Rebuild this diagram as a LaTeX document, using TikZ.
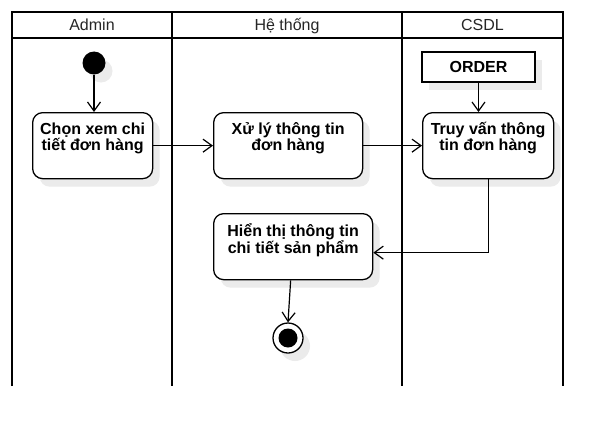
\documentclass[tikz,border=0pt]{standalone}
\usepackage{fontspec}
\setmainfont{Liberation Sans}
\usetikzlibrary{arrows.meta,shadows,calc}
\newcommand{\acttxt}[2]{\parbox[t][46pt][t]{#1}{\centering\fontsize{16}{16}\selectfont\bfseries #2}}
\tikzset{
  lane/.style={line width=2.6pt},
  hdr/.style={line width=1.8pt},
  hdrtext/.style={font=\fontsize{16}{16}\selectfont, text=black!85, inner sep=0pt, anchor=base},
  shadowed/.style={drop shadow={shadow xshift=7pt, shadow yshift=-8pt, fill=black!8, opacity=1}},
  act/.style={draw, line width=1.3pt, rounded corners=10pt, fill=white, shadowed, inner xsep=2pt, inner ysep=10pt, anchor=north west},
  arr/.style={line width=1.2pt, -{Straight Barb[length=9pt,width=13pt,line width=1.2pt]}},
}
\begin{document}
\begin{tikzpicture}[x=1pt,y=-1pt]
\useasboundingbox[fill=white] (0,0) rectangle (612,436);
% swimlanes
\draw[lane] (12,386) -- (12,12) -- (563,12) -- (563,386);
\draw[lane] (172,12) -- (172,386);
\draw[lane] (402,12) -- (402,386);
\draw[hdr] (12,38) -- (563,38);
\node[hdrtext] (hadmin) at (92,30.5) {Admin};
\node[hdrtext] (hsys) at (287,30.5) {Hệ thống};
\node[hdrtext] (hdb) at (482.5,30.5) {CSDL};
% start
\node[circle, fill=black, minimum size=23pt, inner sep=0pt, shadowed] (start) at (94,63) {};
% activities
\node[act] (chon) at (32,112) {\acttxt{116pt}{Chọn xem chi\\tiết đơn hàng}};
\node[act] (xuly) at (213,112) {\acttxt{145pt}{Xử lý thông tin\\đơn hàng}};
\node[act] (truyvan) at (422,112) {\acttxt{127pt}{Truy vấn thông\\tin đơn hàng}};
\node[act] (hienthi) at (213,213) {\acttxt{155pt}{Hiển thị thông tin\\chi tiết sản phẩm}};
\node[draw, line width=1.3pt, fill=white, shadowed, minimum width=113pt, minimum height=30pt, inner sep=0pt, font=\fontsize{16}{16}\selectfont\bfseries] (order) at (478.5,67) {ORDER};
% end
\node[circle, draw, line width=1.3pt, fill=white, minimum size=30pt, inner sep=0pt, shadowed] (end) at (288,338) {};
\node[circle, fill=black, minimum size=19pt, inner sep=0pt] (endin) at (end.center) {};
% connectors
\draw[arr] (start.south) -- (start.south |- chon.north);
\draw[arr] (chon) -- (xuly);
\draw[arr] (xuly) -- (truyvan);
\draw[arr] (order.south) -- (order.south |- truyvan.north);
\coordinate (turn) at ($(hienthi.east)+(0,6)$);
\draw[arr] (truyvan.south) |- (turn);
\draw[arr] ([xshift=-2.5pt]hienthi.south) -- (end.north);
\end{tikzpicture}
\end{document}
